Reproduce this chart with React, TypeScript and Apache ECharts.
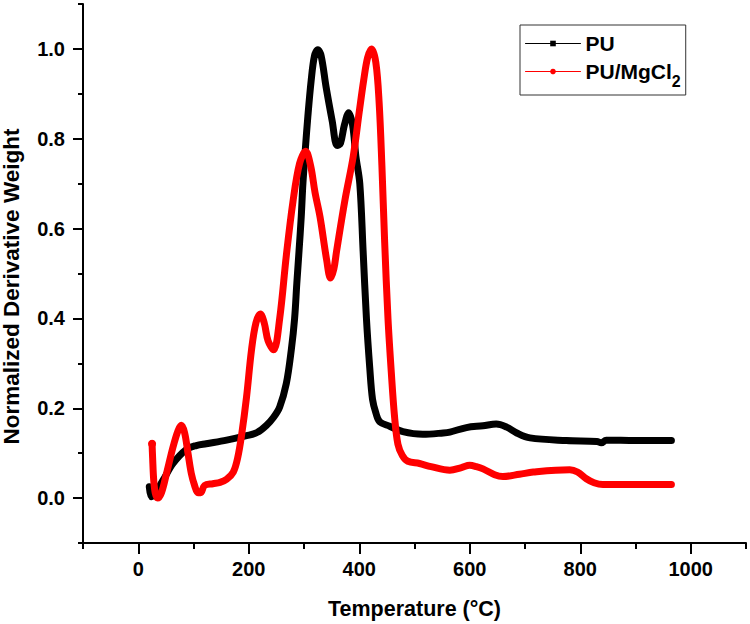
import React, { useEffect, useRef } from "react";
import * as echarts from "echarts";

const puTemp = [20, 24, 30, 45, 63, 87, 105, 123, 160, 196, 215, 232, 245, 256, 268, 277, 283, 287, 291, 295, 298, 302, 307, 313, 319, 325, 331, 340, 351, 360, 366, 373, 381, 388, 394, 401, 407, 413, 419, 424, 430, 437, 455, 479, 515, 552, 564, 594, 624, 648, 667, 685, 709, 775, 830, 838, 847, 900, 965];
const puValue = [0.025, 0.003, 0.01, 0.04, 0.077, 0.108, 0.117, 0.121, 0.129, 0.139, 0.146, 0.162, 0.18, 0.203, 0.255, 0.33, 0.4, 0.478, 0.55, 0.626, 0.7, 0.77, 0.85, 0.93, 0.985, 0.998, 0.985, 0.915, 0.84, 0.785, 0.79, 0.83, 0.858, 0.83, 0.76, 0.7, 0.55, 0.4, 0.29, 0.22, 0.19, 0.17, 0.16, 0.148, 0.142, 0.145, 0.147, 0.157, 0.161, 0.165, 0.158, 0.145, 0.134, 0.128, 0.126, 0.123, 0.129, 0.128, 0.128];

const mgTemp = [25, 26, 28, 31, 35, 42, 51, 63, 72, 78, 84, 90, 96, 102, 108, 113, 120, 135, 148, 160, 172, 180, 187, 196, 205, 213, 221, 228, 235, 245, 256, 268, 280, 292, 303, 312, 320, 329, 341, 348, 354, 359, 374, 389, 400, 408, 415, 422, 430, 436, 441, 446, 452, 458, 464, 470, 478, 488, 509, 530, 564, 585, 600, 612, 624, 645, 660, 690, 715, 781, 795, 811, 825, 841, 965];
const mgValue = [0.121, 0.09, 0.04, 0.01, 0.0, 0.012, 0.054, 0.114, 0.15, 0.162, 0.145, 0.1, 0.055, 0.028, 0.012, 0.012, 0.028, 0.032, 0.035, 0.042, 0.058, 0.09, 0.14, 0.225, 0.33, 0.39, 0.41, 0.39, 0.35, 0.33, 0.4, 0.54, 0.66, 0.745, 0.772, 0.74, 0.68, 0.626, 0.53, 0.49, 0.51, 0.55, 0.663, 0.76, 0.86, 0.93, 0.98, 1.0, 0.97, 0.88, 0.74, 0.57, 0.4, 0.28, 0.18, 0.12, 0.095, 0.082, 0.077, 0.07, 0.062, 0.068, 0.073, 0.07, 0.065, 0.052, 0.048, 0.053, 0.058, 0.063, 0.058, 0.043, 0.034, 0.03, 0.03];

const xMajorTicks = [0, 200, 400, 600, 800, 1000];
const xMinorTicks = [-100, 100, 300, 500, 700, 900, 1100];
const yMajorTicks = [0, 0.2, 0.4, 0.6, 0.8, 1.0];
const yMinorTicks = [-0.1, 0.1, 0.3, 0.5, 0.7, 0.9, 1.1];

const FONT = "Liberation Sans";

export default function App() {
  const ref = useRef<HTMLDivElement>(null);
  useEffect(() => {
    if (!ref.current) return;
    const chart = echarts.init(ref.current, null, { renderer: "svg" });
    const axisText = { color: "#000", fontSize: 20, fontWeight: "bold" as const, fontFamily: FONT };
    const lineSty = { color: "#000", width: 2 };
    chart.setOption({
      animation: false,
      backgroundColor: "#fff",
      grid: { left: 83, right: 4, top: 4, bottom: 81, outerBoundsMode: "none" },
      legend: {
        left: 520,
        top: 25,
        orient: "vertical",
        padding: [8, 5, 6, 5],
        itemGap: 7,
        itemWidth: 55,
        itemHeight: 7,
        itemTextGap: 8,
        borderColor: "#333",
        borderWidth: 1,
        lineStyle: { width: 1 },
        data: ["PU", "PU/MgCl2"],
        formatter: (name: string) => (name === "PU/MgCl2" ? "PU/MgCl{s|2}" : name),
        textStyle: {
          color: "#000",
          fontSize: 21,
          fontWeight: "bold",
          fontFamily: FONT,
          rich: {
            s: { fontSize: 16, fontWeight: "bold", fontFamily: FONT, color: "#000", padding: [19, 0, 0, 0] },
          },
        },
      },
      xAxis: [
        {
          type: "value",
          position: "bottom",
          min: -100,
          max: 1100,
          interval: 100,
          name: "Temperature (°C)",
          nameLocation: "middle",
          nameGap: 55,
          nameTextStyle: { color: "#000", fontSize: 21.5, fontWeight: "bold", fontFamily: FONT },
          axisLine: { show: true, onZero: false, lineStyle: lineSty },
          axisTick: { show: true, length: 11, lineStyle: lineSty, customValues: xMajorTicks },
          axisLabel: { ...axisText, margin: 16, customValues: xMajorTicks, formatter: (v: number) => String(v) },
          splitLine: { show: false },
        },
        {
          type: "value",
          position: "bottom",
          min: -100,
          max: 1100,
          interval: 100,
          axisLine: { show: false, onZero: false },
          axisTick: { show: true, length: 6, lineStyle: lineSty, customValues: xMinorTicks },
          axisLabel: { show: false },
          splitLine: { show: false },
        },
      ],
      yAxis: [
        {
          type: "value",
          position: "left",
          min: -0.1,
          max: 1.1,
          interval: 0.1,
          name: "Normalized Derivative Weight",
          nameLocation: "middle",
          nameGap: 60,
          nameTextStyle: { color: "#000", fontSize: 22.5, fontWeight: "bold", fontFamily: FONT, padding: [0, 26, 0, 0] },
          axisLine: { show: true, onZero: false, lineStyle: lineSty },
          axisTick: { show: true, length: 10, lineStyle: lineSty, customValues: yMajorTicks },
          axisLabel: { ...axisText, margin: 18, customValues: yMajorTicks, formatter: (v: number) => v.toFixed(1) },
          splitLine: { show: false },
        },
        {
          type: "value",
          position: "left",
          min: -0.1,
          max: 1.1,
          interval: 0.1,
          axisLine: { show: false, onZero: false },
          axisTick: { show: true, length: 5, lineStyle: lineSty, customValues: yMinorTicks },
          axisLabel: { show: false },
          splitLine: { show: false },
        },
      ],
      series: [
        {
          name: "PU",
          type: "line",
          xAxisIndex: 0,
          yAxisIndex: 0,
          data: puTemp.map((t, i) => [t, puValue[i]]),
          smooth: 0.35,
          symbol: "rect",
          showSymbol: false,
          color: "#000",
          itemStyle: { color: "#000" },
          lineStyle: { color: "#000", width: 7, cap: "round", join: "round" },
        },
        {
          name: "PU/MgCl2",
          type: "line",
          xAxisIndex: 0,
          yAxisIndex: 0,
          data: mgTemp.map((t, i) => [t, mgValue[i]]),
          smooth: 0.35,
          symbol: "circle",
          showSymbol: true,
          symbolSize: (_v: any, p: any) => (p.dataIndex === 0 ? 8 : 0),
          color: "#ff0000",
          itemStyle: { color: "#ff0000" },
          lineStyle: { color: "#ff0000", width: 7, cap: "round", join: "round" },
        },
      ],
    });
    return () => chart.dispose();
  }, []);
  return <div ref={ref} style={{ position: "fixed", left: 0, top: 0, width: 750, height: 624 }} />;
}
